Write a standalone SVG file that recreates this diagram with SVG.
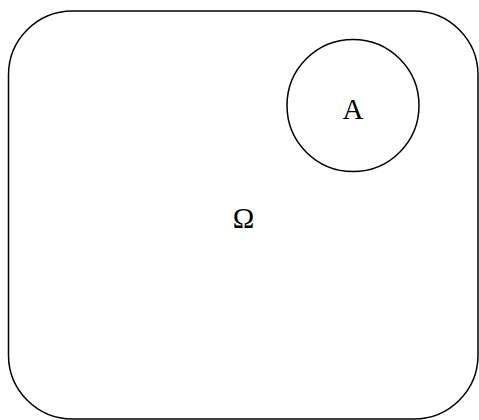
<svg xmlns="http://www.w3.org/2000/svg" width="479" height="420" viewBox="0 0 479 420">
<style>
.shape{fill:#fff;stroke:#000;stroke-width:1.5}
.lbl{font-family:"Liberation Serif","Times New Roman",serif;font-size:29px;fill:#000;text-anchor:middle}
</style>
<rect width="479" height="420" fill="#fff"/>
<g id="omega">
<rect class="shape" x="8.5" y="11" width="469.5" height="408" rx="64" ry="64"/>
<text class="lbl" x="243.5" y="228">Ω</text>
</g>
<g id="A">
<circle class="shape" cx="353" cy="105.5" r="66"/>
<text class="lbl" x="353" y="119">A</text>
</g>
<g id="connectors"/>
</svg>
